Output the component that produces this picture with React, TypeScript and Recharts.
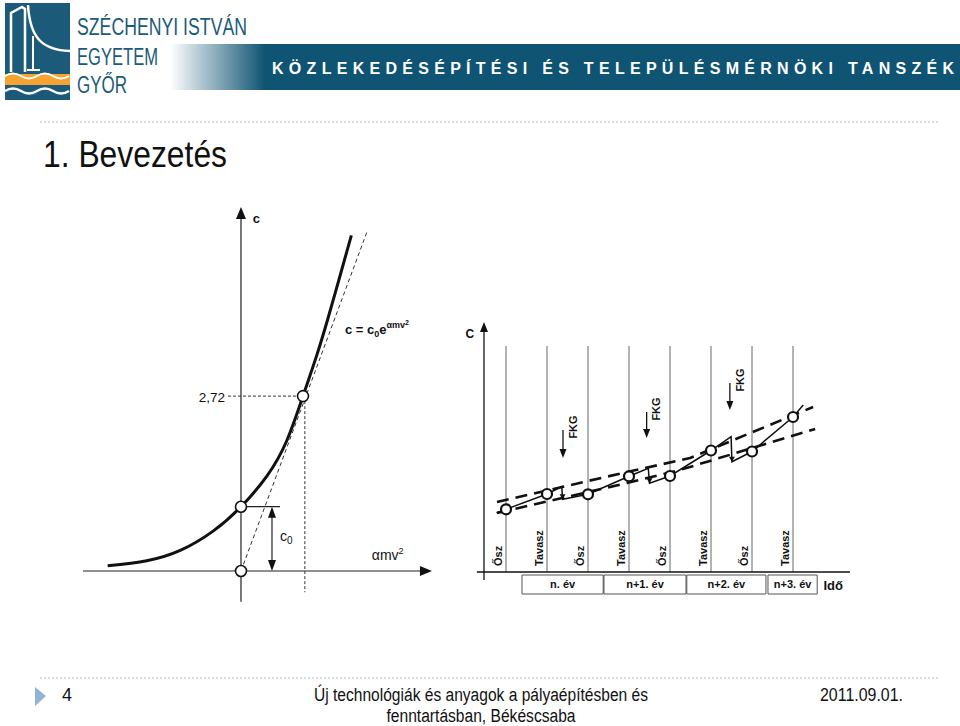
import React from 'react';
import { ComposedChart, Line, Scatter, XAxis, YAxis, ReferenceLine, ReferenceArea } from 'recharts';

// left diagram: c = c0 * e^(amv2), x in amv2 units, c in c0 units
const curveX = [-2.15, -1.52, -0.98, -0.45, 0, 0.42, 0.74, 1.0, 1.22, 1.4, 1.6, 1.78];
const curveC = [0.08, 0.16, 0.32, 0.62, 1.0, 1.48, 2.03, 2.72, 3.35, 3.92, 4.6, 5.22];
const tangentX = [0, 2.03];
const tangentC = [0, 5.27];
const markX = [0, 0, 1];
const markC = [0, 1, 2.72];

// right diagram: time in half-years (season index), C in arbitrary units
const seasons = ['Ősz', 'Tavasz', 'Ősz', 'Tavasz', 'Ősz', 'Tavasz', 'Ősz', 'Tavasz'];
const years = ['n. év', 'n+1. év', 'n+2. év', 'n+3. év'];
const yearStart = [0.39, 2.39, 4.41, 6.39];
const yearEnd = [2.37, 4.39, 6.34, 7.59];
const measC = [6.27, 7.8, 7.77, 9.57, 9.6, 12.15, 12.05, 15.5];
const sawT = [-0.23, 0, 1, 1.36, 1.38, 2, 3, 3.47, 3.5, 4, 5, 5.49, 5.51, 6, 7, 7.25];
const sawC = [5.93, 6.27, 7.8, 8.53, 7.27, 7.77, 9.57, 10.37, 8.87, 9.6, 12.15, 13.53, 11.03, 12.05, 15.5, 16.7];
const upperT = [-0.22, 2.95, 4.49, 7.49];
const upperC = [7.0, 10.0, 11.4, 16.5];
const lowerT = [-0.22, 2.95, 4.24, 7.54];
const lowerC = [5.9, 8.9, 10.2, 14.3];
const fkgT = [1.39, 3.43, 5.46];
const fkgTop = [14.2, 16.0, 18.9];
const fkgBottom = [11.4, 13.4, 16.2];
const dropT = [1.38, 3.5, 5.51];
const dropC = [7.27, 8.87, 11.03];

const pts = (xs: number[], ys: number[]) => xs.map((x, i) => ({ x, y: ys[i] }));

const SANS = 'Liberation Sans, Arial, sans-serif';
const NARROW = '"Liberation Sans Narrow", "Arial Narrow", "Liberation Sans", sans-serif';

const Circle = (r: number, w: number) => (p: any) => (
  <circle cx={p.cx} cy={p.cy} r={r} fill="#fff" stroke="#111" strokeWidth={w} />
);

const Head = (len: number, half: number) => (p: any) => {
  const { cx, cy, payload } = p;
  let d = '';
  if (payload.dir === 'up') d = `${cx},${cy} ${cx - half},${cy + len} ${cx + half},${cy + len}`;
  if (payload.dir === 'down') d = `${cx},${cy} ${cx - half},${cy - len} ${cx + half},${cy - len}`;
  if (payload.dir === 'right') d = `${cx},${cy} ${cx - len},${cy - half} ${cx - len},${cy + half}`;
  return <polygon points={d} fill="#111" />;
};

const Label = (size: number, weight: string, anchor: string, rotate = false) => (p: any) => (
  <text
    transform={`translate(${p.cx},${p.cy})${rotate ? ' rotate(-90)' : ''}`}
    textAnchor={anchor}
    dy={rotate ? '0.35em' : 0}
    fontSize={size}
    fontWeight={weight}
    fontFamily={SANS}
    fill="#111"
  >
    {p.payload.text}
  </text>
);

const Formula = (p: any) => (
  <text x={p.cx} y={p.cy} fontSize={13} fontWeight="bold" fontFamily={SANS} fill="#111">
    c = c<tspan dy={3} fontSize={9}>0</tspan>
    <tspan dy={-3}>e</tspan>
    <tspan dy={-6} fontSize={9}>αmv</tspan>
    <tspan dy={-3} fontSize={7}>2</tspan>
  </text>
);

const Sub = (p: any) => (
  <text x={p.cx} y={p.cy} fontSize={14} fontFamily={SANS} fill="#111">
    {p.payload.text}
    <tspan dy={3} fontSize={10}>{p.payload.sub}</tspan>
  </text>
);

const Sup = (p: any) => (
  <text x={p.cx} y={p.cy} fontSize={14} fontFamily={SANS} fill="#111">
    {p.payload.text}
    <tspan dy={-6} fontSize={9}>{p.payload.sup}</tspan>
  </text>
);

function ExpChart() {
  return (
    <ComposedChart width={360} height={412} margin={{ top: 0, right: 0, bottom: 0, left: 0 }}>
      <XAxis type="number" dataKey="x" domain={[-2.548, 3.258]} hide allowDataOverflow />
      <YAxis type="number" dataKey="y" domain={[-0.56, 5.848]} hide allowDataOverflow />
      <ReferenceLine segment={[{ x: 0, y: -0.48 }, { x: 0, y: 5.6 }]} stroke="#222" strokeWidth={1.2} ifOverflow="visible" />
      <ReferenceLine segment={[{ x: -2.55, y: 0 }, { x: 3.0, y: 0 }]} stroke="#222" strokeWidth={1.2} ifOverflow="visible" />
      <ReferenceLine segment={[{ x: -0.21, y: 2.72 }, { x: 1, y: 2.72 }]} stroke="#333" strokeDasharray="3 2" ifOverflow="visible" />
      <ReferenceLine segment={[{ x: 1.03, y: 2.72 }, { x: 1.03, y: -0.33 }]} stroke="#333" strokeDasharray="3 2" ifOverflow="visible" />
      <ReferenceLine segment={[{ x: 0, y: 1 }, { x: 0.63, y: 1 }]} stroke="#222" strokeWidth={1.2} ifOverflow="visible" />
      <ReferenceLine segment={[{ x: 0.5, y: 0.1 }, { x: 0.5, y: 0.9 }]} stroke="#222" strokeWidth={1.2} ifOverflow="visible" />
      <Line data={pts(tangentX, tangentC)} dataKey="y" type="linear" stroke="#333" strokeWidth={1} strokeDasharray="4 3" dot={false} isAnimationActive={false} />
      <Line data={pts(curveX, curveC)} dataKey="y" type="natural" stroke="#111" strokeWidth={3} dot={false} isAnimationActive={false} />
      <Scatter
        data={[
          { x: 0, y: 5.66, dir: 'up' },
          { x: 3.08, y: 0, dir: 'right' },
        ]}
        shape={Head(12, 5)}
        isAnimationActive={false}
      />
      <Scatter
        data={[
          { x: 0.5, y: 1, dir: 'up' },
          { x: 0.5, y: 0, dir: 'down' },
        ]}
        shape={Head(11, 4)}
        isAnimationActive={false}
      />
      <Scatter data={pts(markX, markC)} shape={Circle(5.5, 1.6)} isAnimationActive={false} />
      <Scatter data={[{ x: 0.19, y: 5.41, text: 'c' }]} shape={Label(13, 'bold', 'start')} isAnimationActive={false} />
      <Scatter data={[{ x: -0.258, y: 2.63, text: '2,72' }]} shape={Label(13.5, 'normal', 'end')} isAnimationActive={false} />
      <Scatter data={[{ x: 1.677, y: 3.69 }]} shape={Formula} isAnimationActive={false} />
      <Scatter data={[{ x: 0.63, y: 0.47, text: 'c', sub: '0' }]} shape={Sub} isAnimationActive={false} />
      <Scatter data={[{ x: 2.11, y: 0.17, text: 'αmv', sup: '2' }]} shape={Sup} isAnimationActive={false} />
    </ComposedChart>
  );
}

function SeasonChart() {
  const seasonLabels = seasons.map((s, i) => ({ x: i - 0.2, y: 0.6, text: s }));
  const yearLabels = years.map((s, i) => ({ x: (yearStart[i] + yearEnd[i]) / 2, y: -1.55, text: s }));
  const fkgLabels = fkgT.map((t, i) => ({ x: t + 0.24, y: fkgTop[i] + 0.3, text: 'FKG' }));
  return (
    <ComposedChart width={395} height={285} margin={{ top: 0, right: 0, bottom: 0, left: 0 }}>
      <XAxis type="number" dataKey="x" domain={[-1.244, 8.39]} hide allowDataOverflow />
      <YAxis type="number" dataKey="y" domain={[-2.8, 25.7]} hide allowDataOverflow />
      {seasons.map((s, i) => (
        <ReferenceLine key={'s' + i} segment={[{ x: i, y: 0 }, { x: i, y: 22.6 }]} stroke="#666" strokeWidth={1} ifOverflow="visible" />
      ))}
      {years.map((s, i) => (
        <ReferenceArea key={'y' + i} x1={yearStart[i]} x2={yearEnd[i]} y1={-2.2} y2={-0.3} fill="#fff" fillOpacity={1} stroke="#555" strokeWidth={1} ifOverflow="visible" />
      ))}
      <ReferenceLine segment={[{ x: -0.537, y: -0.8 }, { x: -0.537, y: 24.6 }]} stroke="#111" strokeWidth={1.3} ifOverflow="visible" />
      <ReferenceLine segment={[{ x: -0.71, y: 0 }, { x: 8.39, y: 0 }]} stroke="#111" strokeWidth={1.3} ifOverflow="visible" />
      {fkgT.map((t, i) => (
        <ReferenceLine key={'f' + i} segment={[{ x: t, y: fkgTop[i] }, { x: t, y: fkgBottom[i] + 0.5 }]} stroke="#111" strokeWidth={1.3} ifOverflow="visible" />
      ))}
      <Line data={pts(upperT, upperC)} dataKey="y" type="linear" stroke="#111" strokeWidth={2.6} strokeDasharray="12 7" dot={false} isAnimationActive={false} />
      <Line data={pts(lowerT, lowerC)} dataKey="y" type="linear" stroke="#111" strokeWidth={2.6} strokeDasharray="12 7" dot={false} isAnimationActive={false} />
      <Line data={pts(sawT, sawC)} dataKey="y" type="linear" stroke="#111" strokeWidth={1.5} dot={false} isAnimationActive={false} />
      <Scatter data={[{ x: -0.537, y: 25.0, dir: 'up' }]} shape={Head(10, 4)} isAnimationActive={false} />
      <Scatter data={fkgT.map((t, i) => ({ x: t, y: fkgBottom[i], dir: 'down' }))} shape={Head(9, 3.5)} isAnimationActive={false} />
      <Scatter data={pts(dropT, dropC).map((d) => ({ ...d, dir: 'down' }))} shape={Head(5, 3)} isAnimationActive={false} />
      <Scatter data={seasons.map((s, i) => ({ x: i, y: measC[i] }))} shape={Circle(5, 2.2)} isAnimationActive={false} />
      <Scatter data={seasonLabels} shape={Label(11, 'bold', 'start', true)} isAnimationActive={false} />
      <Scatter data={fkgLabels} shape={Label(11, 'bold', 'middle', true)} isAnimationActive={false} />
      <Scatter data={yearLabels} shape={Label(11, 'bold', 'middle')} isAnimationActive={false} />
      <Scatter data={[{ x: -0.88, y: 23.4, text: 'C' }]} shape={Label(12, 'bold', 'middle')} isAnimationActive={false} />
      <Scatter data={[{ x: 7.98, y: -1.75, text: 'Idő' }]} shape={Label(13, 'bold', 'middle')} isAnimationActive={false} />
    </ComposedChart>
  );
}

export default function App() {
  const teal = '#1b5a79';
  return (
    <div style={{ position: 'absolute', left: 0, top: 0, width: 960, height: 726, background: '#fff', overflow: 'hidden' }}>
      <svg width={960} height={180} style={{ position: 'absolute', left: 0, top: 0 }}>
        <defs>
          <linearGradient id="band" x1="170" x2="265" y1="0" y2="0" gradientUnits="userSpaceOnUse">
            <stop offset="0" stopColor="#ffffff" />
            <stop offset="1" stopColor="#0f5473" />
          </linearGradient>
        </defs>
        <rect x={5} y={3} width={65} height={97} fill={teal} />
        <path d="M11 72 V13 L22 7 L25 9 V72" fill="none" stroke="#fff" strokeWidth={2.5} />
        <path d="M28 5 C30 38 42 50 70 51" fill="none" stroke="#fff" strokeWidth={2.5} />
        <path d="M33 36 V70 M27 70 H40" stroke="#fff" strokeWidth={2} />
        <rect x={5} y={74} width={65} height={11} fill="#f5a331" />
        <path d="M5 76 q8 -5 16 0 t16 0 t16 0 t16 0" stroke="#fff" strokeWidth={2} fill="none" />
        <path d="M5 91 q8 -5 16 0 t16 0 t16 0 t16 0" stroke="#fff" strokeWidth={2.5} fill="none" />
        <text x={77} y={35} fontSize={23} fill={teal} fontFamily={NARROW} textLength={170} lengthAdjust="spacingAndGlyphs">SZÉCHENYI ISTVÁN</text>
        <text x={77} y={65} fontSize={23} fill={teal} fontFamily={NARROW} textLength={81} lengthAdjust="spacingAndGlyphs">EGYETEM</text>
        <text x={77} y={93} fontSize={23} fill={teal} fontFamily={NARROW} textLength={50} lengthAdjust="spacingAndGlyphs">GYŐR</text>
        <rect x={170} y={44} width={790} height={46} fill="url(#band)" />
        <text x={272} y={74} fill="#fff" fontWeight="bold" fontSize={16} fontFamily={SANS} textLength={682} lengthAdjust="spacing">
          KÖZLEKEDÉSÉPÍTÉSI ÉS TELEPÜLÉSMÉRNÖKI TANSZÉK
        </text>
        <line x1={40} x2={940} y1={122} y2={122} stroke="#a9bccb" strokeDasharray="2 2" />
        <text x={43} y={167} fontSize={36} fill="#111" fontFamily={NARROW} textLength={184} lengthAdjust="spacingAndGlyphs">1. Bevezetés</text>
      </svg>

      <div style={{ position: 'absolute', left: 83, top: 195 }}>
        <ExpChart />
      </div>
      <div style={{ position: 'absolute', left: 455, top: 315 }}>
        <SeasonChart />
      </div>

      <svg width={960} height={56} style={{ position: 'absolute', left: 0, top: 670 }}>
        <line x1={40} x2={940} y1={8} y2={8} stroke="#a9bccb" strokeDasharray="2 2" />
        <polygon points="35,17 46,26 35,36" fill="#8fb4d6" />
        <text x={62} y={31} fontSize={18} fill="#111" fontFamily={NARROW}>4</text>
        <text x={481} y={31} fontSize={18} fill="#111" fontFamily={NARROW} textAnchor="middle" textLength={334} lengthAdjust="spacingAndGlyphs">
          Új technológiák és anyagok a pályaépítésben és
        </text>
        <text x={481} y={52} fontSize={18} fill="#111" fontFamily={NARROW} textAnchor="middle" textLength={189} lengthAdjust="spacingAndGlyphs">
          fenntartásban, Békéscsaba
        </text>
        <text x={820} y={31} fontSize={18} fill="#111" fontFamily={NARROW} textLength={83} lengthAdjust="spacingAndGlyphs">2011.09.01.</text>
      </svg>
    </div>
  );
}
